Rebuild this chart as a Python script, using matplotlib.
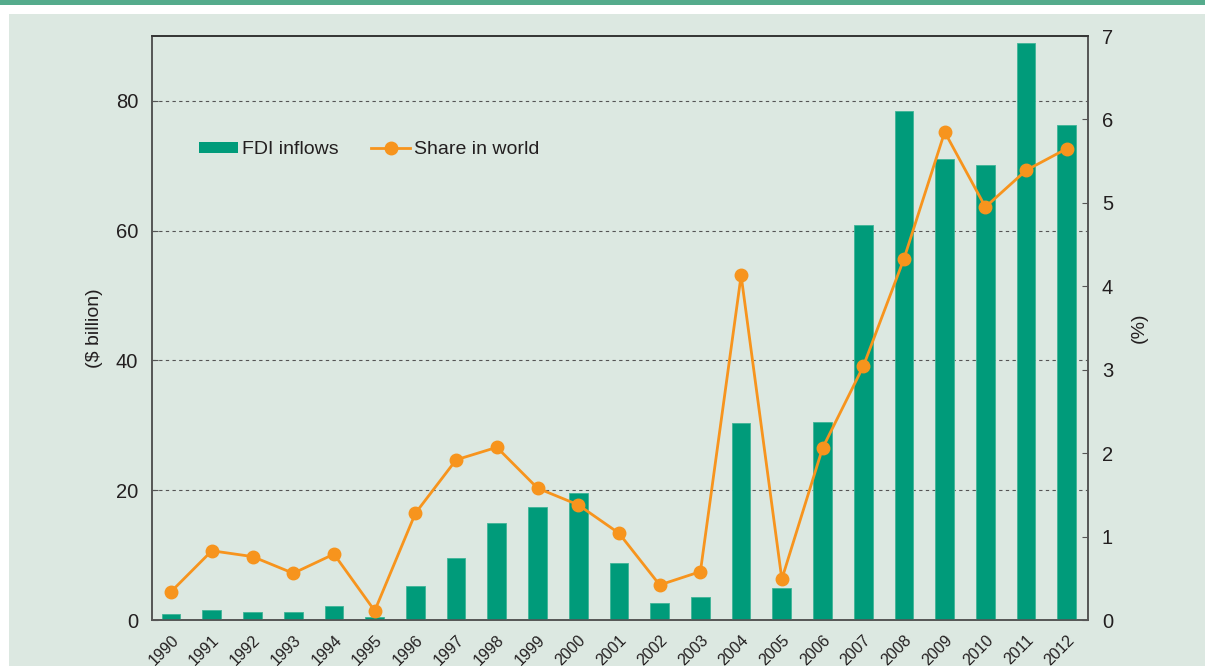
import matplotlib
matplotlib.use("Agg")
import matplotlib.pyplot as plt
from matplotlib.patches import Rectangle
from matplotlib.lines import Line2D
from matplotlib.patches import Patch

years = [str(y) for y in range(1990, 2013)]
fdi_inflows = [0.9, 1.5, 1.3, 1.3, 2.2, 0.4, 5.2, 9.5, 15.0, 17.4, 19.6, 8.8,
               2.6, 3.5, 30.4, 4.9, 30.5, 60.9, 78.5, 71.1, 70.1, 88.9, 76.3]
share_world = [0.34, 0.83, 0.76, 0.56, 0.79, 0.11, 1.28, 1.92, 2.07, 1.58, 1.38,
               1.04, 0.42, 0.58, 4.13, 0.49, 2.06, 3.04, 4.33, 5.85, 4.95, 5.39, 5.65]
left_ticks = [0, 20, 40, 60, 80]
right_ticks = [0, 1, 2, 3, 4, 5, 6, 7]

BAR = "#009b7a"
ORANGE = "#f7941d"
BG = "#dce8e1"
TXT = "#231f20"

plt.rcParams['font.family'] = ['Liberation Sans', 'DejaVu Sans']

fig = plt.figure(figsize=(12.05, 6.66), dpi=100)
fig.patch.set_facecolor("white")
W, H = 1205, 666
fig.patches.append(Rectangle((0, 1 - 5 / H), 1, 5 / H, transform=fig.transFigure,
                             facecolor="#55ab8c", edgecolor="none", zorder=-10))
fig.patches.append(Rectangle((9 / W, 0), 1 - 9 / W, 1 - 14 / H, transform=fig.transFigure,
                             facecolor=BG, edgecolor="none", zorder=-10))

ax = fig.add_axes([152 / W, 1 - 620 / H, (1088 - 152) / W, (620 - 36) / H])
ax.set_facecolor("none")
x = list(range(len(years)))
ax.bar(x, fdi_inflows, width=0.46, color=BAR, edgecolor="#3fb597", linewidth=0.6, zorder=3)
ax.set_xlim(-0.47, len(years) - 0.48)
ax.set_ylim(0, 90)
ax.set_yticks(left_ticks)
for v in left_ticks[1:]:
    ax.axhline(v, color="#555555", linestyle=(0, (3, 3)), linewidth=0.8, zorder=1)
ax.set_xticks(x)
ax.set_xticklabels(years, rotation=45, ha="right", rotation_mode="anchor", fontsize=11.5, color=TXT)
ax.tick_params(axis="x", length=0, pad=9)
ax.tick_params(axis="y", direction="in", length=4, pad=10, labelsize=14.5, colors="#555555", labelcolor=TXT)
ax.set_ylabel("($ billion)", fontsize=14, color=TXT, labelpad=9)
for s in ax.spines.values():
    s.set_color("#555555")
    s.set_linewidth(1.2)
ax.spines["top"].set_color("#333333")

ax2 = ax.twinx()
ax2.set_ylim(0, 7)
ax2.set_yticks(right_ticks)
ax2.plot(x, share_world, color=ORANGE, linewidth=2, marker="o", markersize=9, zorder=5)
ax2.tick_params(axis="y", direction="in", length=4, pad=10, labelsize=14.5, colors="#555555", labelcolor=TXT)
ax2.set_ylabel("(%)", fontsize=14, color=TXT, labelpad=13)
for s in ax2.spines.values():
    s.set_color("#555555")
    s.set_linewidth(1.2)
ax2.spines["top"].set_color("#333333")

handles = [Patch(facecolor=BAR, edgecolor="none"),
           Line2D([0], [0], color=ORANGE, linewidth=2, marker="o", markersize=9)]
leg = ax.legend(handles, ["FDI inflows", "Share in world"], ncol=2, frameon=False,
                loc="center left", bbox_to_anchor=(0.05, 0.805), fontsize=14,
                borderpad=0, borderaxespad=0,
                handlelength=2.0, handleheight=0.45, handletextpad=0.2, columnspacing=1.7)
for t in leg.get_texts():
    t.set_color(TXT)

fig.savefig("out.png", dpi=100)
